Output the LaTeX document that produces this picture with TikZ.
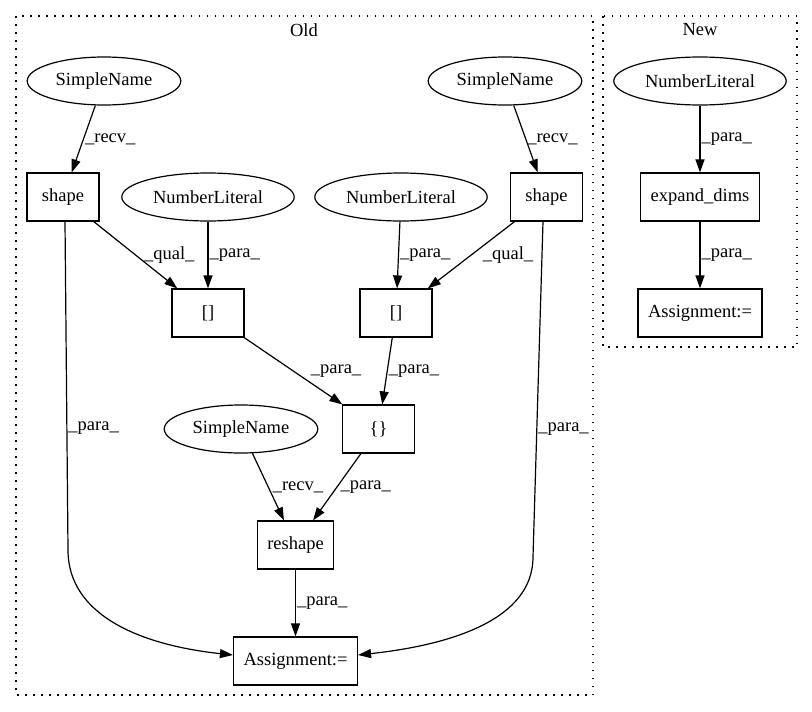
\documentclass[tikz,border=0pt]{standalone}
\usepackage{fontspec}
\setmainfont{Liberation Serif}
\usetikzlibrary{arrows.meta,shapes.geometric}

\begin{document}
\begin{tikzpicture}[x=1pt,y=-1pt,>={Triangle[length=13pt,width=9pt]},
every node/.style={font=\fontsize{18.5}{22}\selectfont},
box/.style={draw,line width=1.2pt,minimum width=72pt,minimum height=48pt,inner xsep=10pt},
oval/.style={draw,ellipse,line width=1.2pt,minimum height=48pt,inner xsep=6pt,inner ysep=0pt},
lbl/.style={right,inner sep=1pt},
cluster/.style={draw,dash pattern=on 1.5pt off 6.5pt,line width=1.3pt}]
\useasboundingbox (0,0) rectangle (812,712);
\draw[cluster] (16,16) rectangle (593,695);
\draw[cluster] (603,16) rectangle (797,347);
\node (old) at (304,30) {Old};
\node (new) at (700,30) {New};

\node[oval] (sn1) at (104,81) {SimpleName};
\node[box] (sh1) at (63,197) {shape};
\node[oval] (nl1) at (208,197) {NumberLiteral};
\node[box] (ix1) at (208,313) {[]};
\node[oval] (nl2) at (401,197) {NumberLiteral};
\node[box] (ix2) at (396,313) {[]};
\node[oval] (sn2) at (505,81) {SimpleName};
\node[box] (sh2) at (546.5,197) {shape};
\node[box] (br) at (378.5,429) {\{\}};
\node[oval] (sn3) at (241,429) {SimpleName};
\node[box] (rs) at (295.5,545) {reshape};
\node[box] (as1) at (295.5,661) {Assignment:=};
\node[oval] (nl3) at (700,81) {NumberLiteral};
\node[box] (ed) at (700,197) {expand\_dims};
\node[box] (as2) at (700,313) {Assignment:=};

\path[->,line width=1.2pt]
(sn1) edge node[lbl]{\_recv\_} (sh1)
(sh1) edge node[lbl,xshift=7pt]{\_qual\_} (ix1)
(nl1) edge node[lbl]{\_para\_} (ix1)
(nl2) edge node[lbl]{\_para\_} (ix2)
(sh2) edge node[lbl,xshift=10pt]{\_qual\_} (ix2)
(sn2) edge node[lbl]{\_recv\_} (sh2)
(ix1) edge node[lbl,xshift=16pt]{\_para\_} (br)
(ix2) edge node[lbl]{\_para\_} (br)
(sn3) edge node[lbl,xshift=3pt]{\_recv\_} (rs)
(br) edge node[lbl,xshift=2pt]{\_para\_} (rs)
(rs) edge node[lbl]{\_para\_} (as1)
(nl3) edge node[lbl]{\_para\_} (ed)
(ed) edge node[lbl]{\_para\_} (as2);
\draw[->,line width=1.2pt] ([xshift=2pt]sh1.south) -- node[lbl,pos=.63]{\_para\_} (68,550)
  .. controls (68,615) and (140,645) .. ([yshift=6pt]as1.west);
\draw[->,line width=1.2pt] ([xshift=-3.5pt]sh2.south) -- node[lbl,pos=.62]{\_para\_} (533,557)
  .. controls (533,620) and (450,645) .. ([yshift=6pt]as1.east);
\end{tikzpicture}
\end{document}
